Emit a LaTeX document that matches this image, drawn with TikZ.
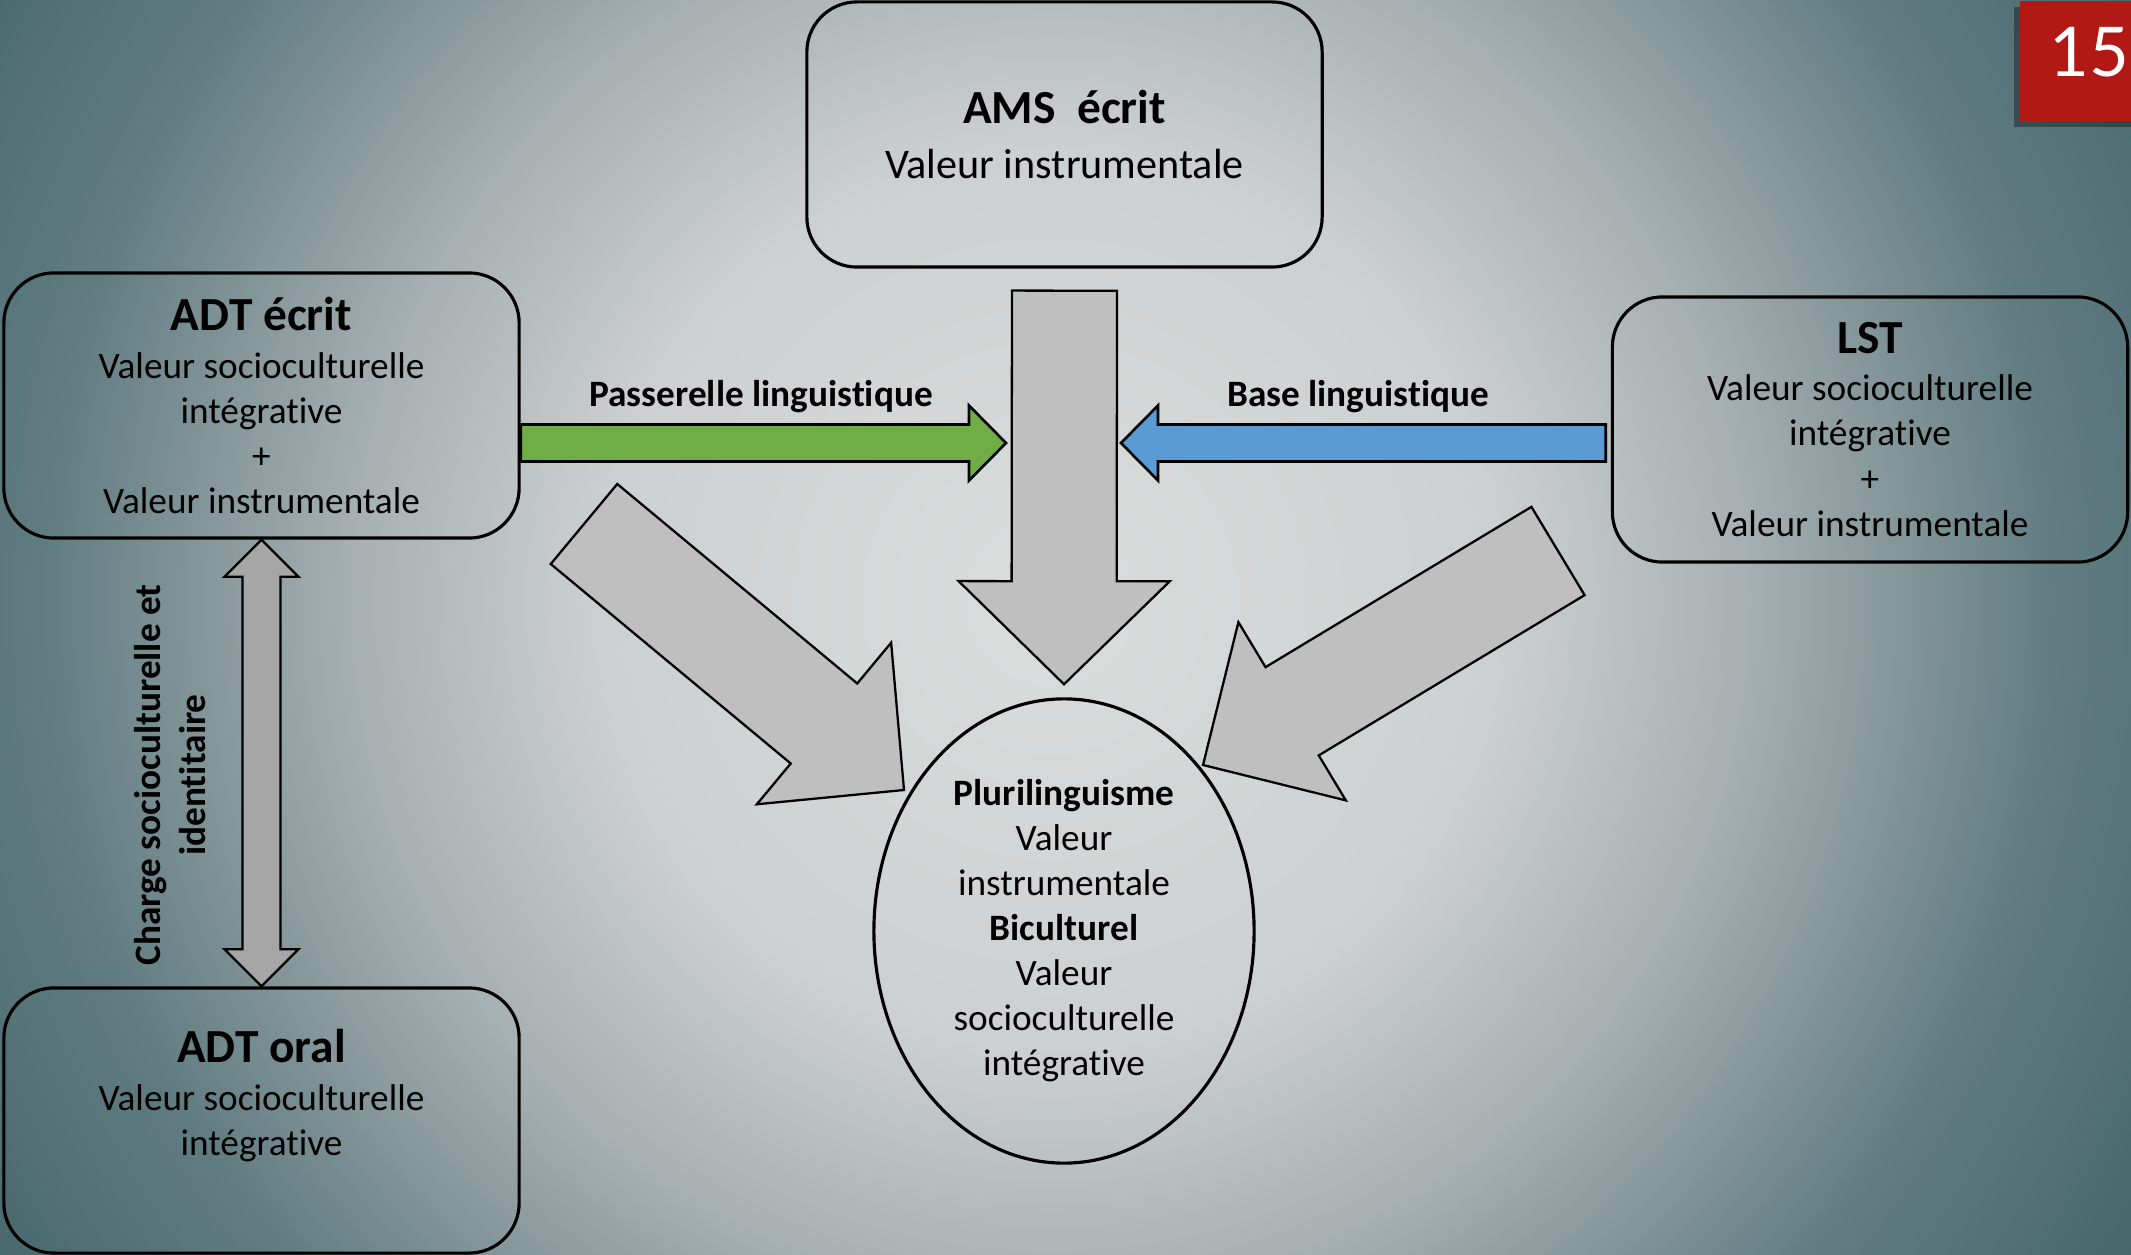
\documentclass[tikz,border=0pt]{standalone}
\usepackage{fontspec}
\setmainfont{Carlito}[Ligatures=NoCommon]
\newfontfamily\numfont{Lato}
\usetikzlibrary{shapes.geometric, calc, positioning}

\definecolor{bgA}{RGB}{219,221,221}
\definecolor{bgB}{RGB}{205,208,208}
\definecolor{bgC}{RGB}{166,175,177}
\definecolor{bgD}{RGB}{96,124,129}
\definecolor{bgE}{RGB}{68,100,106}
\definecolor{arrowgray}{RGB}{191,191,191}
\definecolor{dblgray}{RGB}{166,166,166}
\definecolor{passgreen}{RGB}{112,173,71}
\definecolor{baseblue}{RGB}{91,155,213}
\definecolor{slidered}{RGB}{178,24,20}

% the path box covers the inner 25bp of the shading
\pgfdeclareradialshading{bgshade}{\pgfpoint{0bp}{0bp}}{%
  color(0bp)=(bgA); color(8bp)=(bgB); color(12.5bp)=(bgC);
  color(18bp)=(bgD); color(23bp)=(bgE); color(50bp)=(bgE)}

% block arrow: [style]{tail}{tip}{half shaft}{half head}{head length}
\newcommand{\blockarrow}[6][]{%
  \coordinate (hb) at ($(#3)!#6!(#2)$);
  \draw[#1] ($(#2)!#4!90:(#3)$) -- ($(hb)!#4!90:(#3)$) -- ($(hb)!#5!90:(#3)$)
    -- (#3) -- ($(hb)!#5!-90:(#3)$) -- ($(hb)!#4!-90:(#3)$)
    -- ($(#2)!#4!-90:(#3)$) -- cycle;
}
% double block arrow: [style]{tip one}{tip two}{half shaft}{half head}{head length}
\newcommand{\dblarrow}[6][]{%
  \coordinate (hbA) at ($(#2)!#6!(#3)$);
  \coordinate (hbB) at ($(#3)!#6!(#2)$);
  \draw[#1] (#2) -- ($(hbA)!#5!90:(#3)$) -- ($(hbA)!#4!90:(#3)$)
    -- ($(hbB)!#4!90:(#3)$) -- ($(hbB)!#5!90:(#3)$) -- (#3)
    -- ($(hbB)!#5!-90:(#3)$) -- ($(hbB)!#4!-90:(#3)$)
    -- ($(hbA)!#4!-90:(#3)$) -- ($(hbA)!#5!-90:(#3)$) -- cycle;
}

\begin{document}
\begin{tikzpicture}[x=0.01cm, y=-0.01cm,
  box/.style={draw=black, line width=0.9pt, rounded corners=0.5cm,
    minimum width=5.15cm, minimum height=2.65cm, align=center, inner sep=0pt,
    font=\fontsize{10.6}{12.8}\selectfont},
  grayarrow/.style={draw=black, line width=0.65pt, fill=arrowgray},
  lbl/.style={font=\fontsize{10.6}{12.8}\selectfont\bfseries, align=center}
]
\useasboundingbox (0,0) rectangle (2131,1255);
\begin{scope}
  \clip (0,0) rectangle (2131,1255);
  % background
  \shade[shading=bgshade] (-350,-800) rectangle (2450,2000);

  % boxes
  \node[box, font=\fontsize{12}{14.4}\selectfont] (ams) at (1064.5,134.5)
    {{\fontsize{13.5}{16}\selectfont\bfseries AMS\ \ écrit}\\[1.5pt] Valeur instrumentale};
  \node[box] (adtecrit) at (261.5,405.5)
    {{\fontsize{13.5}{16}\selectfont\bfseries ADT écrit}\\[0.6pt] Valeur socioculturelle\\ intégrative\\ +\\ Valeur instrumentale};
  \node[box] (lst) at (1870,429.5)
    {{\fontsize{13.5}{16}\selectfont\bfseries LST}\\[0.6pt] Valeur socioculturelle\\ intégrative\\ +\\ Valeur instrumentale};
  \node[box, text depth=16pt] (adtoral) at (261.5,1120.5)
    {{\fontsize{13.5}{16}\selectfont\bfseries ADT oral}\\[0.6pt] Valeur socioculturelle\\ intégrative};
  \node[draw=black, line width=0.9pt, ellipse, minimum width=3.8cm, minimum height=4.64cm,
    align=center, inner sep=0pt, font=\fontsize{10.6}{12.8}\selectfont] (pluri) at (1064,931)
    {\textbf{Plurilinguisme}\\ Valeur\\ instrumentale\\ \textbf{Biculturel}\\ Valeur\\ socioculturelle\\ intégrative};

  % arrow ends
  \coordinate (amstail) at ($(ams.south)+(0,22)$);
  \coordinate (amstip) at ($(pluri.north)+(0,-13)$);
  \coordinate (ecrittail) at (584,524);
  \coordinate (ecrittip) at (904,790);
  \coordinate (lsttail) at (1558,551);
  \coordinate (lsttip) at (1203,765);
  \coordinate (passtail) at (adtecrit.east |- 0,443);
  \coordinate (passtip) at (1006,443);
  \coordinate (basetail) at ($(lst.west |- 0,443)+(-5,0)$);
  \coordinate (basetip) at (1121,443);

  % gray block arrows
  \blockarrow[grayarrow]{amstail}{amstip}{0.525cm}{1.055cm}{1.03cm}
  \blockarrow[grayarrow]{ecrittail}{ecrittip}{0.52cm}{1.05cm}{1.04cm}
  \blockarrow[grayarrow]{lsttail}{lsttip}{0.515cm}{1.04cm}{1.04cm}

  % coloured arrows
  \blockarrow[draw=black, line width=0.75pt, fill=passgreen]{passtail}{passtip}{0.185cm}{0.375cm}{0.37cm}
  \blockarrow[draw=black, line width=0.75pt, fill=baseblue]{basetail}{basetip}{0.185cm}{0.375cm}{0.37cm}
  \node[lbl] (passlbl) at (761,397) {Passerelle linguistique};
  \node[lbl] (baselbl) at (1358,397) {Base linguistique};

  % link between the two ADT
  \dblarrow[draw=black, line width=0.65pt, fill=dblgray]{adtecrit.south}{adtoral.north}{0.19cm}{0.37cm}{0.37cm}
  \node[lbl, rotate=90] (charge) at (170,775) {Charge socioculturelle et\\ identitaire};

  % slide number
  \fill[black, opacity=0.35] (2014,7) rectangle (2140,127);
  \node[fill=slidered, minimum width=1.15cm, minimum height=1.2cm, anchor=north west,
    inner sep=0pt] (numbox) at (2019,0) {};
  \node[text=white, font=\numfont\fontsize{19.5}{19.5}\selectfont, anchor=west,
    inner sep=0pt] (num) at (2049,52) {15};
\end{scope}
\end{tikzpicture}
\end{document}
